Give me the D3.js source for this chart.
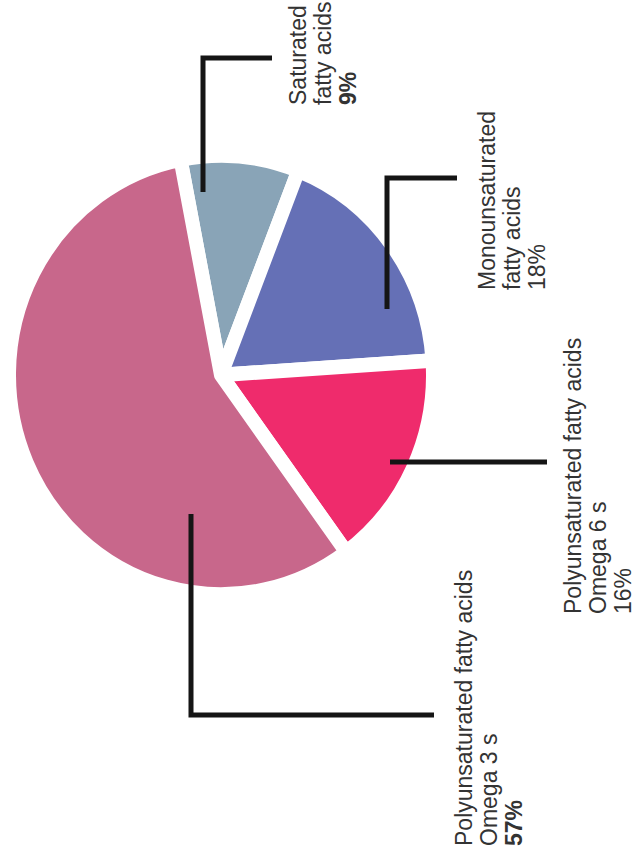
<!DOCTYPE html>
<html><head><meta charset="utf-8">
<script src="https://cdn.jsdelivr.net/npm/d3@7"></script>
<style>html,body{margin:0;padding:0;background:#fff;} svg{display:block}</style>
</head><body><svg id="c" width="635" height="857"></svg>
<script>
// ---- data ----
const categories = ["Saturated fatty acids", "Monounsaturated fatty acids", "Polyunsaturated fatty acids Omega 6 s", "Polyunsaturated fatty acids Omega 3 s"];
const values = [9, 18, 16, 57];
const labelLines = [["Saturated", "fatty acids"], ["Monounsaturated", "fatty acids"], ["Polyunsaturated fatty acids", "Omega 6 s"], ["Polyunsaturated fatty acids", "Omega 3 s"]];
const percentLabels = ["9%", "18%", "16%", "57%"];
const percentBold = [true, false, false, true];

// ---- styling / layout ----
const colors = ["#89a4b7", "#6570b6", "#ef2b6c", "#c8678b"];
const W = 635, H = 857;
const cx = 221, cy = 375, R = 212, yStretch = 1.035;
const startDeg = -11;
const fontSize = 23, lineGap = 25;
const leaders = [
  [[203, 192], [203, 58], [272, 58]],
  [[387, 309], [387, 178], [457, 178]],
  [[390, 462], [547, 462]],
  [[191, 514], [191, 715], [434, 715]]
];
const labelPos = [
  {x: 306, y: 105},
  {x: 495, y: 290},
  {x: 581, y: 614},
  {x: 472, y: 846}
];

const svg = d3.select("#c");
svg.append("rect").attr("width", W).attr("height", H).attr("fill", "#fff");

const data = categories.map((c, i) => ({name: c, value: values[i], i}));
const a0 = startDeg * Math.PI / 180;
const pie = d3.pie().value(d => d.value).sort(null).startAngle(a0).endAngle(a0 + 2 * Math.PI);
const arc = d3.arc().innerRadius(0).outerRadius(R);
const color = d3.scaleOrdinal().domain(categories).range(colors);

const g = svg.append("g").attr("transform", `translate(${cx},${cy}) scale(1,${yStretch})`);
g.selectAll("path").data(pie(data)).join("path")
  .attr("d", arc)
  .attr("fill", d => color(d.data.name))
  .attr("stroke", "#fff")
  .attr("stroke-width", 14)
  .attr("stroke-linejoin", "round");

// leader lines
const line = d3.line();
svg.selectAll("path.leader").data(leaders).join("path")
  .attr("class", "leader")
  .attr("d", d => line(d))
  .attr("fill", "none")
  .attr("stroke", "#151515")
  .attr("stroke-width", 5)
  .attr("stroke-linejoin", "miter");

// labels (rotated, reading bottom-to-top)
data.forEach((d, i) => {
  const p = labelPos[i];
  const lines = labelLines[i].concat([percentLabels[i]]);
  lines.forEach((t, k) => {
    svg.append("text")
      .attr("transform", `translate(${p.x + k * lineGap},${p.y}) rotate(-90)`)
      .attr("font-family", "'Liberation Sans', Arial, sans-serif")
      .attr("font-size", fontSize)
      .attr("font-weight", (k === lines.length - 1 && percentBold[i]) ? "bold" : "normal")
      .attr("fill", "#333")
      .text(t);
  });
});
</script></body></html>
